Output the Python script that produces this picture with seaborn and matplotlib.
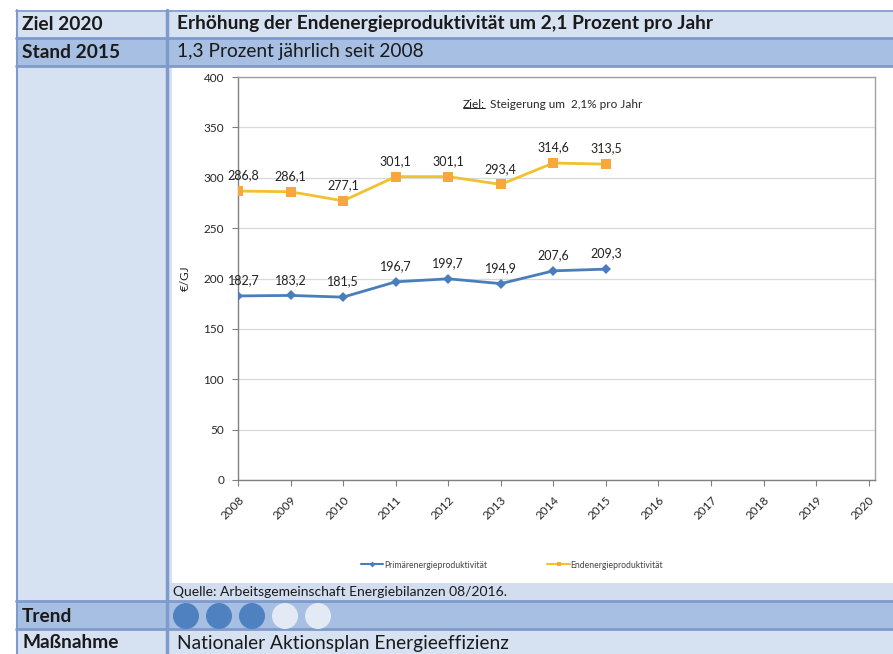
import matplotlib
matplotlib.use("Agg")
import matplotlib.pyplot as plt
import seaborn as sns
import pandas as pd
from matplotlib.patches import Rectangle, Circle
from matplotlib.lines import Line2D

# ---- data ----
years = [2008, 2009, 2010, 2011, 2012, 2013, 2014, 2015]
primaer = [182.7, 183.2, 181.5, 196.7, 199.7, 194.9, 207.6, 209.3]
ende = [286.8, 286.1, 277.1, 301.1, 301.1, 293.4, 314.6, 313.5]
x_ticks = list(range(2008, 2021))
y_ticks = [0, 50, 100, 150, 200, 250, 300, 350, 400]
series_names = ["Primärenergieproduktivität", "Endenergieproduktivität"]
trend_filled = [1, 1, 1, 0, 0]

sns.set_theme(style="white")
FONT = ["Lato", "DejaVu Sans"]
plt.rcParams["font.family"] = FONT

W, H = 893, 654
fig = plt.figure(figsize=(W / 100, H / 100), dpi=100)

# background "table" axes in pixel coordinates
bg = fig.add_axes([0, 0, 1, 1])
bg.set_xlim(0, W)
bg.set_ylim(H, 0)
bg.axis("off")

LIGHT = "#d6e1f1"
DARK = "#a6bfe2"
LINE = "#7f9bcb"
QUELLE = "#d2ddef"

def rect(x0, y0, x1, y1, c, z=0):
    bg.add_patch(Rectangle((x0, y0), x1 - x0, y1 - y0, facecolor=c, edgecolor="none", zorder=z))

rect(16, 10, W, 38, LIGHT)
rect(16, 38, W, 66, DARK)
rect(16, 66, 167, 601, LIGHT)
rect(167, 66, W, 601, LIGHT)
rect(172, 67, W, 583, "#ffffff")
rect(167, 583, W, 601, QUELLE)
rect(16, 601, W, 629, DARK)
rect(16, 629, W, H, LIGHT)

for y in [10.5, 37.5, 66, 601, 629]:
    bg.plot([16, W], [y, y], color=LINE, lw=2 if y > 11 else 1.2, zorder=2)
bg.plot([16.5, 16.5], [10, H], color=LINE, lw=1.5, zorder=2)
bg.plot([166.5, 166.5], [10, H], color=LINE, lw=2.5, zorder=2)

txt_col = "#1a1a1a"
hs = 13.8
bg.text(22, 24, "Ziel 2020", fontsize=hs, fontweight="bold", va="center", color=txt_col)
bg.text(177, 24, "Erhöhung der Endenergieproduktivität um 2,1 Prozent pro Jahr",
        fontsize=hs, fontweight="bold", va="center", color=txt_col)
bg.text(22, 52, "Stand 2015", fontsize=hs, fontweight="bold", va="center", color=txt_col)
bg.text(177, 52, "1,3 Prozent jährlich seit 2008", fontsize=hs, va="center", color=txt_col)
bg.text(22, 616, "Trend", fontsize=hs, fontweight="bold", va="center", color=txt_col)
bg.text(22, 643, "Maßnahme", fontsize=hs, fontweight="bold", va="center", color=txt_col)
bg.text(177, 643, "Nationaler Aktionsplan Energieeffizienz", fontsize=hs, va="center", color=txt_col)
bg.text(173, 592, "Quelle: Arbeitsgemeinschaft Energiebilanzen 08/2016.", fontsize=10,
        va="center", color=txt_col)

for i, f in enumerate(trend_filled):
    cx = 186 + i * 33
    bg.add_patch(Circle((cx, 616), 13, facecolor="#4f81c0" if f else "#e3eaf5",
                        edgecolor="none", zorder=3))

# ---- chart ----
ax = fig.add_axes([238 / W, 1 - 480 / H, (875 - 238) / W, (480 - 77) / H])
ax.set_facecolor("white")

df = pd.DataFrame({
    "Jahr": years * 2,
    "Wert": primaer + ende,
    "Reihe": [series_names[0]] * len(years) + [series_names[1]] * len(years),
})

sns.lineplot(data=df[df["Reihe"] == series_names[0]], x="Jahr", y="Wert", ax=ax,
             color="#4a7ebb", lw=2, marker="D", markersize=5.5, markeredgewidth=0,
             markerfacecolor="#4a7ebb", legend=False, zorder=4)
sns.lineplot(data=df[df["Reihe"] == series_names[1]], x="Jahr", y="Wert", ax=ax,
             color="#f2c12e", lw=2, marker="s", markersize=7, markeredgewidth=0,
             markerfacecolor="#f6a83c", legend=False, zorder=4)

for series in (primaer, ende):
    for xv, yv in zip(years, series):
        dx = 4 if xv == years[0] else 0
        ax.annotate(f"{yv:.1f}".replace(".", ","), (xv, yv), xytext=(dx, 7),
                    textcoords="offset points", ha="center", va="bottom", fontsize=9,
                    color="#222222")

ax.set_xlim(2008, 2020.12)
ax.set_ylim(0, 400)
ax.set_xticks(x_ticks)
ax.set_xticklabels([str(t) for t in x_ticks], rotation=45, ha="right",
                   rotation_mode="anchor", fontsize=8.5)
ax.set_yticks(y_ticks)
ax.set_yticklabels([str(t) for t in y_ticks], fontsize=8.5)
ax.tick_params(axis="both", direction="out", length=4, width=0.8, color="#808080",
               bottom=True, left=True, pad=6)
ax.tick_params(axis="y", pad=6)
ax.grid(axis="y", color="#d9d9d9", lw=0.9)
ax.grid(axis="x", visible=False)
for s in ax.spines.values():
    s.set_color("#a0a0a0")
    s.set_linewidth(1)
ax.spines["left"].set_color("#808080")
ax.spines["bottom"].set_color("#808080")
ax.set_xlabel("")
ax.set_ylabel("€/GJ", fontsize=8.5, labelpad=9)

# goal note
t1 = ax.text(0.353, 0.932, "Ziel:", transform=ax.transAxes, fontsize=8.5, va="center", ha="left")
fig.canvas.draw()
bb = t1.get_window_extent()
t2 = fig.text((bb.x1 + 5) / W, (bb.y0 + bb.y1) / 2 / H, "Steigerung um  2,1% pro Jahr",
              fontsize=8.5, va="center", ha="left")
fig.add_artist(Line2D([bb.x0 / W, bb.x1 / W], [(bb.y0 + 1.5) / H, (bb.y0 + 1.5) / H],
                      color="#222222", lw=0.7))

handles = [
    Line2D([], [], color="#4a7ebb", lw=1.5, marker="D", markersize=3, markerfacecolor="#4a7ebb",
           markeredgewidth=0),
    Line2D([], [], color="#f2c12e", lw=1.5, marker="s", markersize=3.5, markerfacecolor="#f6a83c",
           markeredgewidth=0),
]
fig.legend(handles, series_names, loc="center", bbox_to_anchor=(512 / W, 1 - 565 / H),
           ncol=2, frameon=False, fontsize=6.2, columnspacing=7, handlelength=2.6,
           handletextpad=0.1, labelcolor="#444444")

fig.savefig("out.png", dpi=100)
